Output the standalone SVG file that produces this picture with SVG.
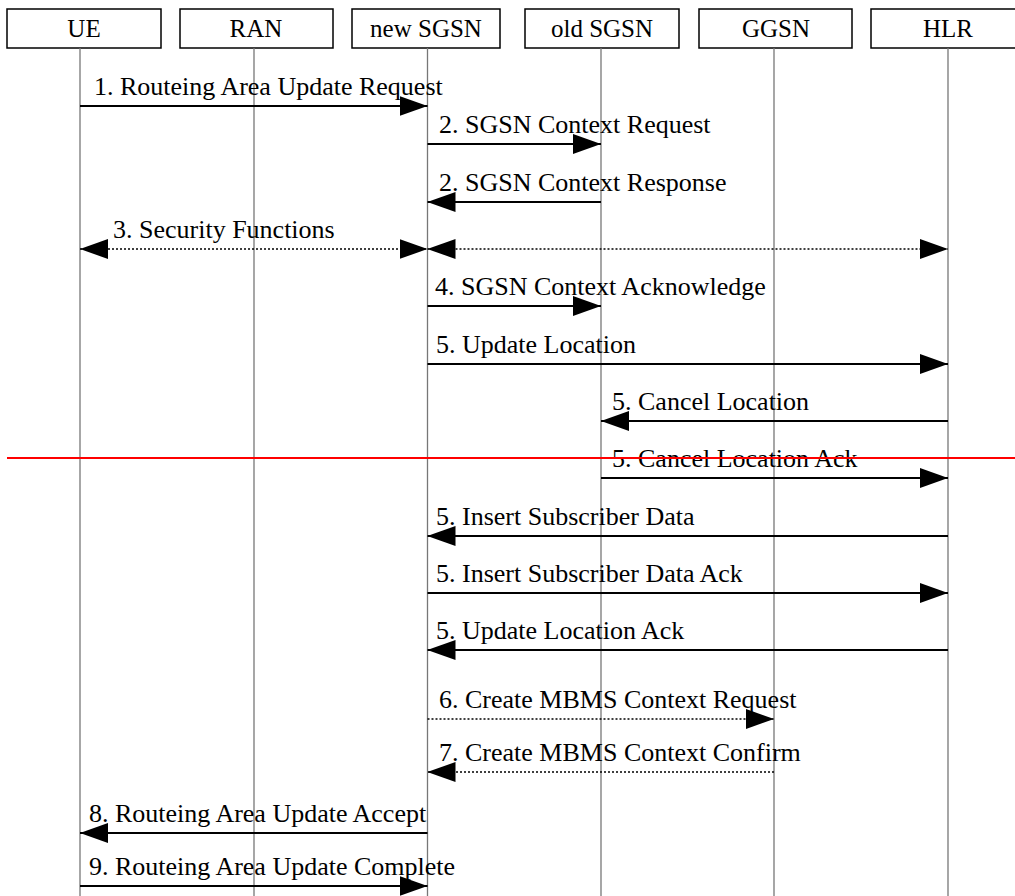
<svg xmlns="http://www.w3.org/2000/svg" width="1015" height="896" viewBox="0 0 1015 896">
<style>
.box{fill:#fff;stroke:#000;stroke-width:1.5}
.life{stroke:#777;stroke-width:1.3}
.hdr{font-family:"Liberation Serif","Times New Roman",serif;font-size:25px;text-anchor:middle;fill:#000}
.lbl{font-family:"Liberation Serif","Times New Roman",serif;font-size:26px;fill:#000}
.msg{stroke:#000;stroke-width:2;fill:none;marker-end:url(#ah)}
.dot{stroke:#000;stroke-width:1.5;stroke-dasharray:2 2;fill:none;marker-end:url(#ah)}
.both{marker-start:url(#ah)}
</style>
<defs>
<marker id="ah" markerUnits="userSpaceOnUse" markerWidth="28" markerHeight="20" refX="28" refY="10" orient="auto-start-reverse">
<path d="M0,0 L28,10 L0,20 z" fill="#000"/>
</marker>
</defs>
<rect width="1015" height="896" fill="#fff"/>
<g id="UE"><rect class="box" x="7" y="9" width="154" height="39"/><text class="hdr" x="84" y="37">UE</text><line class="life" x1="80" y1="48" x2="80" y2="896"/></g>
<g id="RAN"><rect class="box" x="180" y="9" width="153" height="39"/><text class="hdr" x="256" y="37">RAN</text><line class="life" x1="254" y1="48" x2="254" y2="896"/></g>
<g id="newSGSN"><rect class="box" x="352" y="9" width="148" height="39"/><text class="hdr" x="426" y="37">new SGSN</text><line class="life" x1="427.5" y1="48" x2="427.5" y2="896"/></g>
<g id="oldSGSN"><rect class="box" x="525" y="9" width="154" height="39"/><text class="hdr" x="602" y="37">old SGSN</text><line class="life" x1="601" y1="48" x2="601" y2="896"/></g>
<g id="GGSN"><rect class="box" x="699" y="9" width="153" height="39"/><text class="hdr" x="776" y="37">GGSN</text><line class="life" x1="774" y1="48" x2="774" y2="896"/></g>
<g id="HLR"><rect class="box" x="871" y="9" width="160" height="39"/><text class="hdr" x="948" y="37">HLR</text><line class="life" x1="948" y1="48" x2="948" y2="896"/></g>
<g id="connectors">
<line class="msg" x1="80" y1="106" x2="427.5" y2="106"/>
<line class="msg" x1="427.5" y1="144" x2="601" y2="144"/>
<line class="msg" x1="601" y1="202" x2="427.5" y2="202"/>
<line class="dot both" x1="80" y1="249" x2="427.5" y2="249"/>
<line class="dot both" x1="427.5" y1="249" x2="948" y2="249"/>
<line class="msg" x1="427.5" y1="306" x2="601" y2="306"/>
<line class="msg" x1="427.5" y1="364" x2="948" y2="364"/>
<line class="msg" x1="948" y1="421" x2="601" y2="421"/>
<line class="msg" x1="601" y1="478" x2="948" y2="478"/>
<line class="msg" x1="948" y1="536" x2="427.5" y2="536"/>
<line class="msg" x1="427.5" y1="593" x2="948" y2="593"/>
<line class="msg" x1="948" y1="650" x2="427.5" y2="650"/>
<line class="dot" x1="427.5" y1="719" x2="774" y2="719"/>
<line class="dot" x1="774" y1="772" x2="427.5" y2="772"/>
<line class="msg" x1="427.5" y1="833" x2="80" y2="833"/>
<line class="msg" x1="80" y1="886" x2="427.5" y2="886"/>
</g>
<g id="labels">
<text class="lbl" x="94" y="95">1. Routeing Area Update Request</text>
<text class="lbl" x="439" y="133">2. SGSN Context Request</text>
<text class="lbl" x="439" y="191">2. SGSN Context Response</text>
<text class="lbl" x="113" y="238">3. Security Functions</text>
<text class="lbl" x="435" y="295">4. SGSN Context Acknowledge</text>
<text class="lbl" x="436" y="353">5. Update Location</text>
<text class="lbl" x="612" y="410">5. Cancel Location</text>
<text class="lbl" x="612" y="467">5. Cancel Location Ack</text>
<text class="lbl" x="436" y="525">5. Insert Subscriber Data</text>
<text class="lbl" x="436" y="582">5. Insert Subscriber Data Ack</text>
<text class="lbl" x="436" y="639">5. Update Location Ack</text>
<text class="lbl" x="439" y="708">6. Create MBMS Context Request</text>
<text class="lbl" x="439" y="761">7. Create MBMS Context Confirm</text>
<text class="lbl" x="89" y="822">8. Routeing Area Update Accept</text>
<text class="lbl" x="89" y="875">9. Routeing Area Update Complete</text>
</g>
<line id="redline" x1="7" y1="458" x2="1015" y2="458" stroke="#f00" stroke-width="2"/>
</svg>
